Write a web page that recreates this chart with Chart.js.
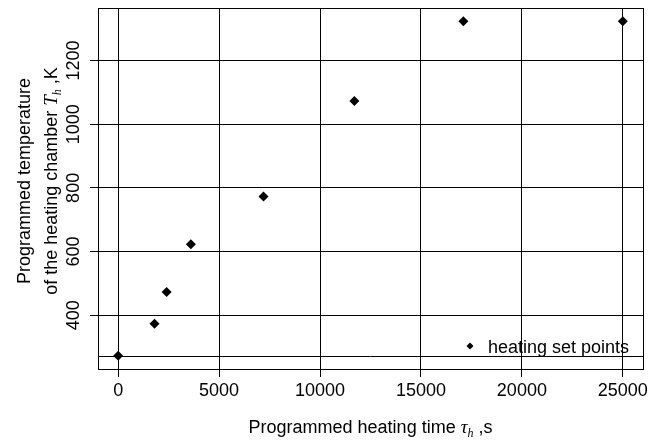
<!DOCTYPE html>
<html>
<head>
<meta charset="utf-8">
<title>Programmed heating</title>
<script src="https://cdn.jsdelivr.net/npm/chart.js@4.4.1/dist/chart.umd.min.js"></script>
<style>
  html, body { margin: 0; padding: 0; background: #fff; }
  #wrap { width: 666px; height: 441px; }
</style>
</head>
<body>
<div id="wrap"><canvas id="heatChart" width="666" height="441"></canvas></div>
<script>
// data
const heatingTime = [0, 1800, 2400, 3600, 7200, 11700, 17100, 25000];
const chamberTemp = [273, 373, 473, 623, 773, 1073, 1323, 1323];
const xTicks = [0, 5000, 10000, 15000, 20000, 25000];
const yTicks = [400, 600, 800, 1000, 1200];
const refTemp = 273;
const xRange = [-1000, 26000];
const yRange = [231, 1365];

const FONT = "'Liberation Sans', Arial, sans-serif";
const SERIF = "'Liberation Serif', 'Times New Roman', serif";

function drawRich(ctx, parts, x, y) {
    let total = 0;
    parts.forEach(p => { ctx.font = p.font; total += ctx.measureText(p.text).width; });
    let cx = x - total / 2;
    ctx.textAlign = 'left';
    ctx.textBaseline = 'alphabetic';
    parts.forEach(p => {
        ctx.font = p.font;
        ctx.fillText(p.text, cx, y + (p.dy || 0));
        cx += ctx.measureText(p.text).width;
    });
}

const extras = {
    id: 'extras',
    beforeDatasetsDraw(chart) {
        const ctx = chart.ctx, a = chart.chartArea;
        const y = Math.round(chart.scales.y.getPixelForValue(refTemp)) + 0.5;
        ctx.save();
        ctx.strokeStyle = '#000';
        ctx.lineWidth = 1;
        ctx.beginPath();
        ctx.moveTo(a.left, y);
        ctx.lineTo(a.right, y);
        ctx.stroke();
        ctx.restore();
    },
    afterDraw(chart) {
        const ctx = chart.ctx, a = chart.chartArea;
        ctx.save();
        // box
        ctx.strokeStyle = '#000';
        ctx.lineWidth = 1;
        ctx.strokeRect(Math.round(a.left) + 0.5, Math.round(a.top) + 0.5,
            Math.round(a.right - a.left), Math.round(a.bottom - a.top));

        ctx.fillStyle = '#000';
        const big = '18px ' + FONT;
        // x title
        drawRich(ctx, [
            { text: 'Programmed heating time ', font: big },
            { text: 'τ', font: 'italic 19px ' + SERIF },
            { text: 'h', font: 'italic 12px ' + SERIF, dy: 4 },
            { text: ' ,s', font: big }
        ], (a.left + a.right) / 2, 433);

        // y title, two lines, rotated
        ctx.translate(0, 181);
        ctx.rotate(-Math.PI / 2);
        drawRich(ctx, [{ text: 'Programmed temperature', font: big }], 0, 30);
        drawRich(ctx, [
            { text: 'of the heating chamber ', font: big },
            { text: 'T', font: 'italic 19px ' + SERIF },
            { text: 'h', font: 'italic 12px ' + SERIF, dy: 4 },
            { text: ' ,K', font: big }
        ], 0, 57);
        ctx.restore();

        // legend
        ctx.save();
        const lx = 470, ly = 346, r = 3.5;
        ctx.fillStyle = '#000';
        ctx.beginPath();
        ctx.moveTo(lx, ly - r);
        ctx.lineTo(lx + r, ly);
        ctx.lineTo(lx, ly + r);
        ctx.lineTo(lx - r, ly);
        ctx.closePath();
        ctx.fill();
        ctx.font = big;
        ctx.textAlign = 'left';
        ctx.textBaseline = 'alphabetic';
        ctx.fillText(chart.data.datasets[0].label, 488, 353);
        ctx.restore();
    }
};

new Chart(document.getElementById('heatChart'), {
    type: 'scatter',
    data: {
        datasets: [{
            label: 'heating set points',
            data: heatingTime.map((t, i) => ({ x: t, y: chamberTemp[i] })),
            pointStyle: 'rectRot',
            pointRadius: 5,
            backgroundColor: '#000',
            borderColor: '#000',
            borderWidth: 0
        }]
    },
    options: {
        responsive: false,
        animation: false,
        devicePixelRatio: 1,
        layout: { padding: { top: 8, right: 23, left: 0, bottom: 0 } },
        plugins: { legend: { display: false }, tooltip: { enabled: false } },
        scales: {
            x: {
                type: 'linear',
                min: xRange[0],
                max: xRange[1],
                afterBuildTicks: s => { s.ticks = xTicks.map(v => ({ value: v })); },
                afterFit: s => { s.height = 72; },
                grid: { color: '#000', lineWidth: 1, tickLength: 8 },
                border: { color: '#000' },
                ticks: {
                    color: '#000',
                    padding: 3,
                    maxRotation: 0,
                    font: { family: FONT, size: 18 },
                    callback: v => String(v)
                }
            },
            y: {
                type: 'linear',
                min: yRange[0],
                max: yRange[1],
                afterBuildTicks: s => { s.ticks = yTicks.map(v => ({ value: v })); },
                afterFit: s => { s.width = 98; },
                grid: { color: '#000', lineWidth: 1, tickLength: 8 },
                border: { color: '#000' },
                ticks: {
                    color: '#000',
                    padding: -4,
                    minRotation: 90,
                    maxRotation: 90,
                    crossAlign: 'center',
                    font: { family: FONT, size: 18 },
                    callback: v => String(v)
                }
            }
        }
    },
    plugins: [extras]
});
</script>
</body>
</html>
